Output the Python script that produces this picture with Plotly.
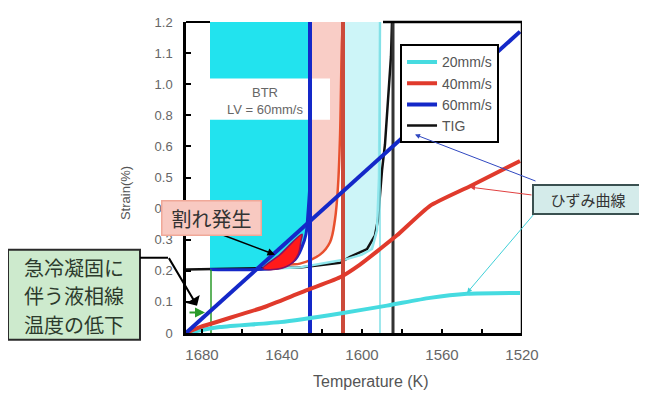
import plotly.graph_objects as go

# ---------------- data ----------------
x_ticks = [1680, 1640, 1600, 1560, 1520]
y_tick_vals = [0, 0.1, 0.2, 0.3, 0.4, 0.5, 0.6, 0.7, 0.8, 0.9, 1.0]
y_tick_text = ["0", "0.1", "0.2", "0.3", "0.4", "0.5", "0.6", "0.8", "1.0", "1.1", "1.2"]

# strain curves
strain_60_T = [1688, 1521]
strain_60 = [0, 0.969]
strain_40_T = [1688, 1681, 1649.5, 1631, 1611, 1601, 1591, 1582.5, 1566, 1546, 1521]
strain_40 = [0, 0.019, 0.082, 0.129, 0.179, 0.220, 0.270, 0.314, 0.409, 0.472, 0.553]
strain_20_T = [1688, 1671, 1641, 1611, 1587.5, 1566, 1547.5, 1521]
strain_20 = [0, 0.019, 0.035, 0.063, 0.088, 0.113, 0.126, 0.129]

# BTR curves
btr_tig_T = [1688, 1631, 1611, 1606, 1597.5, 1593.5, 1592, 1590, 1588.5, 1587, 1585.5, 1585]
btr_tig = [0.204, 0.211, 0.226, 0.245, 0.270, 0.314, 0.365, 0.522, 0.607, 0.733, 0.890, 1.0]
btr_60_T = [1676, 1652.5, 1641, 1633.5, 1630, 1628, 1627, 1626]
btr_60 = [0.204, 0.204, 0.211, 0.236, 0.277, 0.318, 0.387, 0.481]
btr_40_T = [1651, 1636, 1631, 1621, 1616, 1613.5, 1612, 1611, 1610, 1609.5]
btr_40 = [0.204, 0.220, 0.223, 0.252, 0.292, 0.365, 0.472, 0.629, 0.943, 1.0]
btr_20_T = [1652.5, 1631, 1608.5, 1600, 1595, 1592.5, 1591.5, 1591]
btr_20 = [0.204, 0.211, 0.236, 0.252, 0.270, 0.33, 0.5, 1.0]

# crack region (割れ発生)
crack_T = [1649.5, 1641, 1630, 1630.5, 1632, 1636, 1644.5, 1649.5]
crack_v = [0.208, 0.252, 0.318, 0.296, 0.252, 0.220, 0.204, 0.208]

# vertical BTR limits
vline_blue_T = 1626
vline_red_T = 1609.5
vline_cyan_T = 1591
vline_black_T = 1584.5
liquidus_T = 1675.5
liquidus_v = 0.204

# note text lines
note_lines = ["急冷凝固に", "伴う液相線", "温度の低下"]

TOP = 1.03

CYAN = "#22e3ee"
RED = "#e03a2c"
BLUE = "#1428c8"
LCYAN = "#46dbe0"

fig = go.Figure()

def add(x, y, **kw):
    kw.setdefault("showlegend", False)
    kw.setdefault("hoverinfo", "skip")
    fig.add_trace(go.Scatter(x=x, y=y, **kw))

# fills
add([btr_60_T[0]] + btr_60_T + [btr_60_T[-1]], [TOP] + btr_60 + [TOP],
    mode="lines", fill="toself", fillcolor=CYAN, line=dict(width=0))
pink_T = [vline_blue_T, vline_blue_T] + btr_40_T[3:] + [vline_red_T]
pink_v = [TOP, 0.236] + btr_40[3:] + [TOP]
add(pink_T, pink_v, mode="lines", fill="toself", fillcolor="#f9cdc6", line=dict(width=0))
lc_T = [vline_red_T, vline_red_T] + btr_20_T[2:] + [vline_cyan_T]
lc_v = [TOP, 0.23] + btr_20[2:] + [TOP]
add(lc_T, lc_v, mode="lines", fill="toself", fillcolor="#cdf5f8", line=dict(width=0))

# white box behind BTR label
add([1676, 1616, 1616, 1676, 1676], [0.686, 0.686, 0.818, 0.818, 0.686],
    mode="lines", fill="toself", fillcolor="white", line=dict(width=0))

# BTR curves
add(btr_tig_T, btr_tig, mode="lines", line=dict(color="#111111", width=2.5),
    name="TIG", showlegend=True, legendrank=4)
add(btr_20_T, btr_20, mode="lines", line=dict(color="#8fe6ec", width=2.5))
add(btr_40_T, btr_40, mode="lines", line=dict(color="#e8502e", width=2.5, shape="spline"))
add(btr_60_T, btr_60, mode="lines", line=dict(color=BLUE, width=3, shape="spline"))

# crack region
add(crack_T, crack_v, mode="lines", fill="toself", fillcolor="#ff1a1a",
    line=dict(color="#8a1060", width=1.5, shape="spline"))

# vertical lines
add([vline_cyan_T, vline_cyan_T], [0, TOP], mode="lines", line=dict(color="#7fdfe6", width=1.5))
add([vline_black_T, vline_black_T], [0, TOP], mode="lines", line=dict(color="#333333", width=3))
add([vline_red_T, vline_red_T], [0, TOP], mode="lines", line=dict(color="#cc4a3a", width=4))
add([vline_blue_T, vline_blue_T], [0, TOP], mode="lines", line=dict(color=BLUE, width=4))
add([liquidus_T, liquidus_T], [0, liquidus_v], mode="lines", line=dict(color="#2a9a2a", width=1.5))

# strain curves
add(strain_20_T, strain_20, mode="lines", line=dict(color=LCYAN, width=4, shape="spline", smoothing=0.6),
    name="20mm/s", showlegend=True, legendrank=1)
add(strain_40_T, strain_40, mode="lines", line=dict(color=RED, width=4, shape="spline", smoothing=0.5),
    name="40mm/s", showlegend=True, legendrank=2)
add(strain_60_T, strain_60, mode="lines", line=dict(color=BLUE, width=4),
    name="60mm/s", showlegend=True, legendrank=3)

# frame pieces
fig.add_shape(type="line", xref="x", yref="paper", x0=1688, x1=1676, y0=1, y1=1,
              line=dict(color="black", width=2))
fig.add_shape(type="line", xref="x", yref="paper", x0=1589.5, x1=1520, y0=1, y1=1,
              line=dict(color="black", width=2.5))
fig.add_shape(type="line", xref="x", yref="paper", x0=1520, x1=1520, y0=0, y1=1,
              line=dict(color="black", width=2.5))
# green note box and its leader line
fig.add_shape(type="rect", xref="paper", yref="paper", x0=-0.5298, x1=-0.1369, y0=-0.022, y1=0.2673,
              fillcolor="#cdeacd", line=dict(color="#2a2a2a", width=2))
fig.add_shape(type="line", xref="paper", yref="paper", x0=-0.1369, x1=-0.0536, y0=0.242, y1=0.242,
              line=dict(color="black", width=2))

ann_font = dict(family="Noto Sans CJK JP", color="#333333")
C = dict(xanchor="center", yanchor="middle")

fig.add_annotation(x=1648.5, y=0.745, xref="x", yref="y", text="BTR<br>LV = 60mm/s",
                   showarrow=False, font=dict(family="Liberation Sans", size=13, color="#666666"), **C)

# 割れ発生
fig.add_annotation(x=1643.5, y=0.252, xref="x", yref="y", ax=-53, ay=-20, text="",
                   showarrow=True, arrowhead=2, arrowsize=1, arrowwidth=1.5, arrowcolor="black")
fig.add_annotation(x=0.077, y=0.369, xref="paper", yref="paper", text="割れ発生",
                   showarrow=False, bgcolor="#f8c9c1", bordercolor="#f0a898", borderwidth=1.5,
                   borderpad=2, width=94, height=29,
                   font=dict(size=20, **ann_font), **C)

# 急冷凝固
fig.add_annotation(x=0.0327, y=0.088, xref="paper", yref="paper", ax=-29, ay=-49, text="",
                   showarrow=True, arrowhead=1, arrowsize=1.3, arrowwidth=2, arrowcolor="black")
fig.add_annotation(x=1678.5, y=0.066, xref="x", yref="y", ax=-17, ay=0, text="",
                   showarrow=True, arrowhead=2, arrowsize=1, arrowwidth=2, arrowcolor="#2a9a2a")
for line_text, ly in zip(note_lines, [0.2107, 0.1195, 0.0283]):
    fig.add_annotation(x=-0.3333, y=ly, xref="paper", yref="paper", text=line_text,
                       showarrow=False,
                       font=dict(size=20, family="Noto Sans CJK JP", color="#2c3a2c"), **C)

# ひずみ曲線
fig.add_annotation(x=1573.5, y=0.638, xref="x", yref="y", ax=122, ay=47, text="",
                   showarrow=True, arrowhead=2, arrowsize=1, arrowwidth=1, arrowcolor="#3048c0")
fig.add_annotation(x=1546, y=0.469, xref="x", yref="y", ax=63, ay=8, text="",
                   showarrow=True, arrowhead=2, arrowsize=1, arrowwidth=1, arrowcolor="#e04040")
fig.add_annotation(x=1547.5, y=0.129, xref="x", yref="y", ax=68, ay=-80, text="",
                   showarrow=True, arrowhead=2, arrowsize=1, arrowwidth=1, arrowcolor="#40d0d8")
fig.add_annotation(x=1.196, y=0.428, xref="paper", yref="paper", text="ひずみ曲線",
                   showarrow=False, bgcolor="#d4ebea", bordercolor="#3a5050", borderwidth=2,
                   borderpad=1, width=106, height=25,
                   font=dict(size=15, **ann_font), **C)

# axis titles
fig.add_annotation(x=-0.1815, y=0.45, xref="paper", yref="paper", text="Strain(%)",
                   textangle=-90, showarrow=False,
                   font=dict(family="Liberation Sans", size=13, color="#555555"), **C)
fig.add_annotation(x=0.551, y=-0.157, xref="paper", yref="paper", text="Temperature (K)",
                   showarrow=False, font=dict(family="Liberation Sans", size=16, color="#555555"), **C)

fig.update_layout(
    width=647, height=394,
    margin=dict(l=178, r=133, t=7, b=69),
    paper_bgcolor="white", plot_bgcolor="white",
    showlegend=True,
    legend=dict(x=0.637, y=0.928, xanchor="left", yanchor="top",
                bgcolor="white", bordercolor="black", borderwidth=2,
                font=dict(family="Liberation Sans", size=14, color="#555555"),
                itemwidth=30, tracegroupgap=0),
    xaxis=dict(range=[1688, 1520], tickmode="linear", tick0=1520, dtick=40,
               ticks="inside", ticklen=4, tickcolor="black", tickwidth=1.5,
               minor=dict(dtick=20, ticks="inside", ticklen=4, tickcolor="black", tickwidth=1.5),
               showline=True, linecolor="black", linewidth=2.5,
               showgrid=False, zeroline=False, ticklabelstandoff=6,
               tickfont=dict(family="Liberation Sans", size=15, color="#666666")),
    yaxis=dict(range=[0, 1.0], tickmode="array", tickvals=y_tick_vals, ticktext=y_tick_text,
               ticks="inside", ticklen=5, tickcolor="black", tickwidth=1.5,
               showline=True, linecolor="black", linewidth=2.5, ticklabeloverflow="allow",
               showgrid=False, zeroline=False, ticklabelstandoff=8,
               tickfont=dict(family="Liberation Sans", size=13, color="#666666")),
)

fig.write_html("out.html")
